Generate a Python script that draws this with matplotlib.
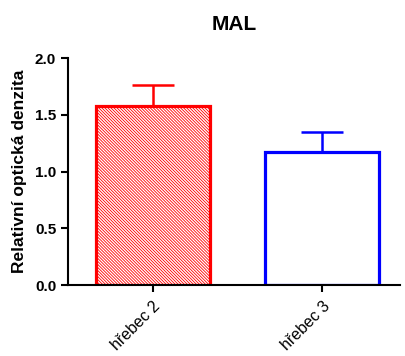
import matplotlib.pyplot as plt
import numpy as np

plt.rcParams['hatch.linewidth'] = 0.6

groups = ['hřebec 2', 'hřebec 3']
means = [1.58, 1.17]
sem = [0.18, 0.18]
edge_colors = ['#ff0000', '#0000ff']
hatches = ['\\' * 11, '']

fig = plt.figure(figsize=(4.06, 3.56), dpi=100)
ax = fig.add_axes([0.1675, 0.1994, 0.8175, 0.6376])

x = np.arange(len(groups))
for i in range(len(groups)):
    ax.bar(x[i], means[i], width=0.675, color='white', edgecolor=edge_colors[i],
           linewidth=2.3, hatch=hatches[i], zorder=2)
    ax.errorbar(x[i], means[i], yerr=[[0], [sem[i]]], fmt='none',
                ecolor=edge_colors[i], elinewidth=1.8, capsize=15, capthick=1.8, zorder=1)

ax.set_xlim(-0.5, 1.46)
ax.set_ylim(0, 2.0)
ax.set_yticks([0, 0.5, 1.0, 1.5, 2.0])
ax.set_yticklabels(['0.0', '0.5', '1.0', '1.5', '2.0'], fontfamily='Liberation Sans',
                   fontweight='bold', fontsize=11)
ax.set_xticks(x)
ax.set_xticklabels(groups, rotation=45, ha='right', rotation_mode='anchor',
                   fontfamily='Liberation Sans', fontsize=11.5)
ax.tick_params(axis='both', length=5, width=1.5, direction='out')
ax.tick_params(axis='x', pad=5)

for s in ['top', 'right']:
    ax.spines[s].set_visible(False)
for s in ['left', 'bottom']:
    ax.spines[s].set_linewidth(1.5)

ax.set_ylabel('Relativní optická denzita', fontfamily='Liberation Sans',
              fontweight='bold', fontsize=12.5, labelpad=6)
ax.set_title('MAL', fontfamily='Liberation Sans', fontweight='bold', fontsize=15, pad=20)

fig.savefig('out.png', dpi=100)
